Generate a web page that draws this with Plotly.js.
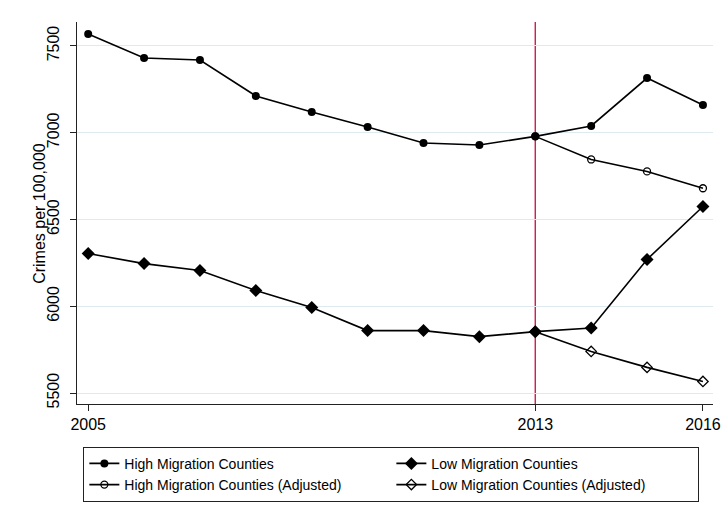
<!DOCTYPE html>
<html>
<head>
<meta charset="utf-8">
<script src="https://cdn.plot.ly/plotly-3.0.1.min.js"></script>
<style>html,body{margin:0;padding:0;background:#fff;}#chart{width:723px;height:529px;}</style>
</head>
<body>
<div id="chart"></div>
<script>
const years = [2005, 2006, 2007, 2008, 2009, 2010, 2011, 2012, 2013, 2014, 2015, 2016];
const highMigration = [7569, 7431, 7419, 7212, 7119, 7033, 6941, 6929, 6979, 7039, 7315, 7160];
const lowMigration = [6304, 6246, 6206, 6091, 5993, 5860, 5860, 5825, 5854, 5875, 6270, 6575];
const adjYears = [2013, 2014, 2015, 2016];
const highAdjusted = [6979, 6846, 6777, 6680];
const lowAdjusted = [5854, 5740, 5648, 5567];
const xTicks = [2005, 2013, 2016];
const yTicks = [5500, 6000, 6500, 7000, 7500];
const policyYear = 2013;
const yTitle = 'Crimes per 100,000';

const lineStyle = {color: '#000', width: 1.6};
const traces = [
  {x: years, y: highMigration, name: 'High Migration Counties', mode: 'lines+markers',
   line: lineStyle, marker: {symbol: 'circle', size: 8, color: '#000'}},
  {x: years, y: lowMigration, name: 'Low Migration Counties', mode: 'lines+markers',
   line: lineStyle, marker: {symbol: 'diamond', size: 10, color: '#000'}},
  {x: adjYears, y: highAdjusted, name: 'High Migration Counties (Adjusted)', mode: 'lines+markers',
   line: lineStyle, marker: {symbol: 'circle-open', size: 7, color: '#000', line: {width: 1.3, color: '#000'}}},
  {x: adjYears, y: lowAdjusted, name: 'Low Migration Counties (Adjusted)', mode: 'lines+markers',
   line: lineStyle, marker: {symbol: 'diamond-open', size: 8, color: '#000', line: {width: 1.3, color: '#000'}}}
];

const layout = {
  width: 723, height: 529,
  paper_bgcolor: '#fff', plot_bgcolor: '#fff',
  font: {family: 'Liberation Sans, Arial, sans-serif', color: '#000'},
  margin: {l: 77, r: 10, t: 22, b: 125},
  showlegend: true,
  legend: {
    orientation: 'h', x: 0.01, y: -0.112, xanchor: 'left', yanchor: 'top',
    bordercolor: '#222', borderwidth: 1, bgcolor: '#fff',
    font: {size: 14, color: '#000'}, entrywidth: 262, traceorder: 'normal'
  },
  xaxis: {
    range: [2004.8, 2016.18], tickvals: xTicks, ticktext: xTicks.map(String),
    showgrid: false, zeroline: false, showline: true, linecolor: '#222', linewidth: 1,
    ticks: 'outside', ticklen: 6, tickcolor: '#222', tickfont: {size: 16}
  },
  yaxis: {
    range: [5437, 7638], tickvals: yTicks, ticktext: yTicks.map(String), tickangle: -90,
    showgrid: true, gridcolor: '#deeaee', gridwidth: 1, zeroline: false,
    showline: true, linecolor: '#222', linewidth: 1,
    ticks: 'outside', ticklen: 6, tickcolor: '#222', tickfont: {size: 16},
    ticklabelstandoff: 5
  },
  annotations: [{text: yTitle, xref: 'paper', yref: 'paper', x: -0.06, y: 0.5,
                 xanchor: 'center', yanchor: 'middle', textangle: -90, showarrow: false,
                 font: {size: 16, color: '#000'}}],
  shapes: [{type: 'line', xref: 'x', yref: 'paper', x0: policyYear, x1: policyYear, y0: 0, y1: 1,
            line: {color: '#d01c4b', width: 1.4}, layer: 'below'}]
};

Plotly.newPlot('chart', traces, layout, {displayModeBar: false, staticPlot: true});
</script>
</body>
</html>
